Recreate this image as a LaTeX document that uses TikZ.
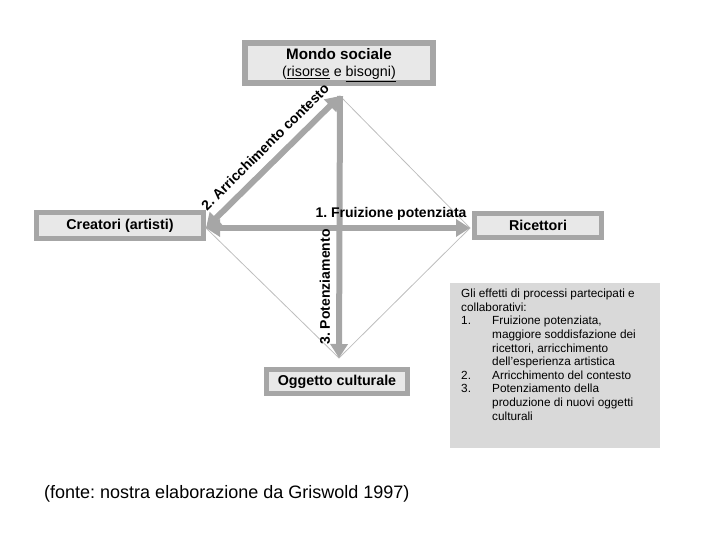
\documentclass[tikz,border=0pt]{standalone}
\usepackage{fontspec}
\setmainfont{Liberation Sans}
\usetikzlibrary{arrows.meta}
\definecolor{bordergray}{RGB}{166,166,166}
\definecolor{innergray}{RGB}{232,232,232}
\definecolor{infogray}{RGB}{217,217,217}
\definecolor{thingray}{RGB}{190,190,190}
\frenchspacing
\begin{document}
\begin{tikzpicture}[x=1pt,y=-1pt,
  boxnode/.style={draw=bordergray,fill=innergray,inner sep=0pt,font=\bfseries\fontsize{14.3}{16}\selectfont},
  thinline/.style={draw=thingray,line width=0.8pt},
  bigarrow/.style={draw=bordergray,line width=6pt,
     -{Triangle[length=14pt,width=17pt]}},
  bigdouble/.style={draw=bordergray,line width=6pt,
     {Triangle[length=14pt,width=17pt]}-{Triangle[length=14pt,width=17pt]}},
  lbl/.style={font=\bfseries\fontsize{14}{16}\selectfont,inner sep=1pt}
]
\useasboundingbox (0,0) rectangle (720,540);
% vertices
\coordinate (T) at (340,96);
\coordinate (L) at (206,228);
\coordinate (R) at (470,228);
\coordinate (B) at (339,358);
% nodes
\node[boxnode,line width=6pt,minimum width=188pt,minimum height=40pt] (mondo) at (339,63) {};
\node[inner sep=0pt,align=center,font=\bfseries\fontsize{14.3}{17}\selectfont] (mondotext) at (339,65)
  {{\fontsize{15.2}{17}\selectfont Mondo sociale}\\{\mdseries(\underline{risorse} e \underline{bisogni)}}};
\node[boxnode,line width=5pt,minimum width=167pt,minimum height=26pt] (creatori) at (120,225.5) {Creatori (artisti)};
\node[boxnode,line width=5pt,minimum width=127pt,minimum height=24pt] (ricettori) at (538,225.5) {Ricettori};
\node[boxnode,line width=5pt,minimum width=141pt,minimum height=24pt] (oggetto) at (337,381.5) {Oggetto culturale};
% diamond
\draw[thinline] (T) -- (R) -- (B) -- (L) -- cycle;
% thick arrows
\draw[bigarrow] (T) -- (B);
\draw[bigdouble] (L) -- (R);
\draw[bigdouble] (L) -- (T);
% labels
\node[lbl,rotate=44.6] (l2) at (265,147) {2. Arricchimento contesto};
\node[lbl] (l1) at (391,214) {1. Fruizione potenziata};
\node[lbl,rotate=90] (l3) at (325,287) {3. Potenziamento};
% info box
\node[fill=infogray,minimum width=210pt,minimum height=165pt,inner sep=0pt] (info) at (555,365.5) {};
\node[anchor=north west,inner sep=0pt,align=left,font=\fontsize{11.8}{13.6}\selectfont] (infotext) at (461,289)
{Gli effetti di processi partecipati e\\
collaborativi:\\
\makebox[31pt][l]{1.}Fruizione potenziata,\\
\makebox[31pt][l]{}maggiore soddisfazione dei\\
\makebox[31pt][l]{}ricettori, arricchimento\\
\makebox[31pt][l]{}dell’esperienza artistica\\
\makebox[31pt][l]{2.}Arricchimento del contesto\\
\makebox[31pt][l]{3.}Potenziamento della\\
\makebox[31pt][l]{}produzione di nuovi oggetti\\
\makebox[31pt][l]{}culturali};
% footer
\node[font=\fontsize{18}{20}\selectfont,anchor=west,inner sep=0pt] (fonte) at (44,494) {(fonte: nostra elaborazione da Griswold 1997)};
\end{tikzpicture}
\end{document}
